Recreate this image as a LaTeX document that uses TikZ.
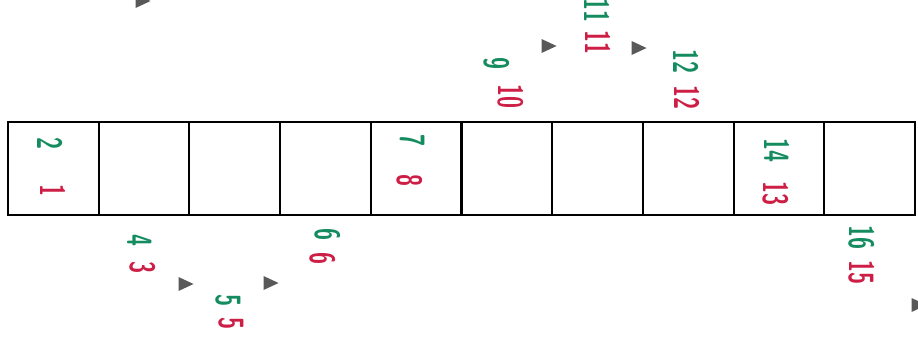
\documentclass[tikz,border=0pt]{standalone}
\usepackage{xcolor}
\usepackage{tikz}
\usetikzlibrary{positioning, shapes.geometric}

\definecolor{numred}{RGB}{205,30,70}
\definecolor{numgreen}{RGB}{20,140,95}
% squeezes the digits along the reading direction
\newcommand{\numtxt}[1]{\scalebox{0.62}[1]{#1}}

\begin{document}
\begin{tikzpicture}[
  cell/.style={draw, line width=0.6pt, minimum width=0.907cm, minimum height=0.93cm, outer sep=0pt, inner sep=0pt},
  num/.style={font=\sffamily\bfseries, rotate=-90, inner sep=1pt},
  rednum/.style={num, text=numred},
  greennum/.style={num, text=numgreen},
  pointer/.style={isosceles triangle, isosceles triangle apex angle=50, fill=black!65, inner sep=0pt, minimum size=0.14cm}
]
\useasboundingbox (0,0) rectangle (9.18,-3.43);

% Cells
\node[cell] (c1) at (0.5335,-1.685) {};
\foreach \i [count=\j from 1] in {2,...,10}
  \node[cell, right=0pt of c\j] (c\i) {};

% Inside the cells
\node[greennum] (g2) at (0.50,-1.43) {\numtxt{2}};
\node[rednum] (r1) at (0.53,-1.90) {\numtxt{1}};
\node[greennum] (g7) at (4.13,-1.40) {\numtxt{7}};
\node[rednum] (r8) at (4.10,-1.80) {\numtxt{8}};
\node[greennum] (g14) at (7.77,-1.50) {\numtxt{14}};
\node[rednum] (r13) at (7.76,-1.93) {\numtxt{13}};

% Below the row
\node[greennum] (g4) at (1.40,-2.40) {\numtxt{4}};
\node[rednum] (r3) at (1.43,-2.67) {\numtxt{3}};
\node[pointer] (p1) at (1.83,-2.84) {};
\node[greennum] (g5) at (2.28,-3.00) {\numtxt{5}};
\node[rednum] (r5) at (2.31,-3.23) {\numtxt{5}};
\node[pointer] (p2) at (2.68,-2.83) {};
\node[greennum] (g6) at (3.28,-2.34) {\numtxt{6}};
\node[rednum] (r6) at (3.23,-2.58) {\numtxt{6}};
\node[greennum] (g16) at (8.62,-2.37) {\numtxt{16}};
\node[rednum] (r15) at (8.62,-2.72) {\numtxt{15}};
\node[pointer] (p5) at (9.16,-3.05) {};

% Above the row
\node[pointer] (p0) at (1.40,-0.01) {};
\node[greennum] (g9) at (4.97,-0.63) {\numtxt{9}};
\node[rednum] (r10) at (5.11,-0.96) {\numtxt{10}};
\node[pointer] (p3) at (5.46,-0.46) {};
\node[greennum] (g11) at (5.97,-0.10) {\numtxt{11}};
\node[rednum] (r11) at (5.98,-0.42) {\numtxt{11}};
\node[pointer] (p4) at (6.36,-0.48) {};
\node[greennum] (g12) at (6.86,-0.61) {\numtxt{12}};
\node[rednum] (r12) at (6.87,-0.97) {\numtxt{12}};
\end{tikzpicture}
\end{document}
